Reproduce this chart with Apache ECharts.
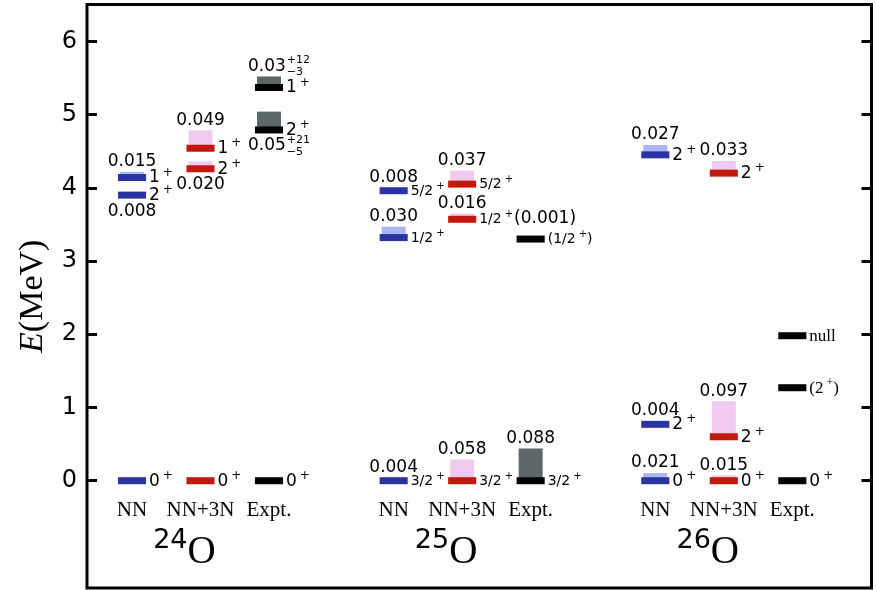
<!DOCTYPE html>
<html>
<head>
<meta charset="utf-8">
<script src="https://cdn.jsdelivr.net/npm/echarts@6/dist/echarts.min.js"></script>
<style>
  html, body { margin: 0; padding: 0; background: #fff; }
  #chart { width: 876px; height: 590px; }
</style>
</head>
<body>
<div id="chart"></div>
<script>
// Oxygen isotopes and the three level columns drawn for each of them
const nuclei = ['24', '25', '26'];
const methods = ['NN', 'NN+3N', 'Expt.'];
const columnX = [1, 2, 3, 4.82, 5.82, 6.82, 8.64, 9.64, 10.64];
const energyTicks = [0, 1, 2, 3, 4, 5, 6];

// Levels: column index, excitation energy (MeV), J^pi, decay width (MeV)
const levelColumn = [0, 0, 0, 1, 1, 1, 2, 2, 2,
                     3, 3, 3, 4, 4, 4, 5, 5,
                     6, 6, 6, 7, 7, 7, 8, 8, 8];
const levelEnergy = [0, 3.90, 4.14, 0, 4.26, 4.54, 0, 4.79, 5.37,
                     0, 3.32, 3.96, 0, 3.57, 4.05, 0, 3.30,
                     0, 0.77, 4.45, 0, 0.60, 4.20, 0, 1.27, 1.98];
const levelSpin = ['0+', '2+', '1+', '0+', '2+', '1+', '0+', '2+', '1+',
                   '3/2+', '1/2+', '5/2+', '3/2+', '1/2+', '5/2+', '3/2+', '(1/2+)',
                   '0+', '2+', '2+', '0+', '2+', '2+', '0+', '(2+)', 'null'];
const levelWidth = ['', '0.008', '0.015', '', '0.020', '0.049', '', '0.05', '0.03',
                    '0.004', '0.030', '0.008', '0.058', '0.016', '0.037', '0.088', '',
                    '0.021', '0.004', '0.027', '0.015', '0.097', '0.033', '', '', ''];
const widthErrUp = ['', '', '', '', '', '', '', '+21', '+12',
                    '', '', '', '', '', '', '', '',
                    '', '', '', '', '', '', '', '', ''];
const widthErrDown = ['', '', '', '', '', '', '', '\u22125', '\u22123',
                      '', '', '', '', '', '', '', '',
                      '', '', '', '', '', '', '', '', ''];
const levelNote = ['', '', '', '', '', '', '', '', '',
                   '', '', '', '', '(0.001)', '', '', '',
                   '', '', '', '', '', '', '', '', ''];

// Drawing style
const barColor = ['#2a33a2', '#c4180b', '#000000'];
const boxColor = ['#a9b5f4', '#efc9ef', '#5d6868'];
const BAR_WIDTH = 0.41;     // in column units
const BOX_WIDTH = 0.35;
const BAR_THICK = 7;        // px
const WIDTH_SCALE = 5;      // boxes show 5 x width above the level
const widthBelow = [1, 4, 7];      // width labels written under the level
const serifSpin = [24, 25];
const SANS = 'DejaVu Sans';
const SERIF = 'Liberation Serif';

function spinRich(s) {
  if (s.indexOf('+') < 0) return '{n|' + s + '}';
  const parts = s.split('+');
  let out = '';
  parts.forEach((p, k) => {
    if (p) out += '{n|' + p + '}';
    if (k < parts.length - 1) out += '{s|+}';
  });
  return out;
}

const measureCtx = document.createElement('canvas').getContext('2d');
function textWidth(t, size, family) {
  measureCtx.font = size + 'px "' + family + '"';
  return measureCtx.measureText(t).width;
}

function renderLevel(params, api) {
  const i = params.dataIndex;
  const col = levelColumn[i];
  const method = col % 3;
  const x = api.value(0);
  const E = api.value(1);
  const w = api.value(2);
  const c = api.coord([x, E]);
  const barW = api.size([BAR_WIDTH, 0])[0];
  const boxW = api.size([BOX_WIDTH, 0])[0];
  const children = [];
  let top = c[1] - BAR_THICK / 2;

  if (w > 0) {
    const yTop = api.coord([x, E + WIDTH_SCALE * w])[1];
    children.push({
      type: 'rect',
      shape: { x: c[0] - boxW / 2, y: yTop, width: boxW, height: c[1] - yTop },
      style: { fill: boxColor[method] }
    });
    top = Math.min(top, yTop);
  }
  children.push({
    type: 'rect',
    shape: { x: c[0] - barW / 2, y: c[1] - BAR_THICK / 2, width: barW, height: BAR_THICK },
    style: { fill: barColor[method] }
  });

  // J^pi label to the right of the level
  const small = col >= 3 && col <= 5;
  const fs = small ? 14 : 17;
  const fam = serifSpin.indexOf(i) >= 0 ? SERIF : SANS;
  let txt = spinRich(levelSpin[i]);
  if (levelNote[i]) txt += '{w|' + levelNote[i] + '}';
  children.push({
    type: 'text',
    x: c[0] + barW / 2 + 3,
    y: c[1] - 1,
    style: {
      text: txt,
      align: 'left',
      verticalAlign: 'middle',
      fill: '#000',
      fontSize: fs,
      fontFamily: fam,
      rich: {
        n: { fontSize: fs, fontFamily: fam, lineHeight: fs + 3, verticalAlign: 'bottom' },
        s: { fontSize: Math.round(fs * 0.72), fontFamily: fam, verticalAlign: 'top', padding: [0, 0, 0, 3] },
        w: { fontSize: 17, fontFamily: SANS, lineHeight: fs + 3, verticalAlign: 'bottom', padding: [0, 0, 0, 1] }
      }
    }
  });

  // width label
  if (levelWidth[i]) {
    const below = widthBelow.indexOf(i) >= 0;
    const yc = below ? c[1] + 16 : top - 10;
    if (widthErrUp[i]) {
      const x0 = c[0] - 21;
      const mw = textWidth(levelWidth[i], 17, SANS);
      children.push({ type: 'text', x: x0, y: yc,
        style: { text: levelWidth[i], align: 'left', verticalAlign: 'middle', fontSize: 17, fontFamily: SANS, fill: '#000' } });
      children.push({ type: 'text', x: x0 + mw + 1, y: yc - 6,
        style: { text: widthErrUp[i], align: 'left', verticalAlign: 'middle', fontSize: 11, fontFamily: SANS, fill: '#000' } });
      children.push({ type: 'text', x: x0 + mw + 1, y: yc + 6,
        style: { text: widthErrDown[i], align: 'left', verticalAlign: 'middle', fontSize: 11, fontFamily: SANS, fill: '#000' } });
    } else {
      children.push({ type: 'text', x: c[0], y: yc,
        style: { text: levelWidth[i], align: 'center', verticalAlign: 'middle', fontSize: 17, fontFamily: SANS, fill: '#000' } });
    }
  }
  return { type: 'group', children: children };
}

function renderColumnLabel(params, api) {
  const i = params.dataIndex;
  const x = api.value(0);
  const c0 = api.coord([x, 0]);
  const children = [{
    type: 'text', x: c0[0], y: c0[1] + 30,
    style: { text: methods[i % 3], align: 'center', verticalAlign: 'middle',
             fontSize: 21, fontFamily: SERIF, fill: '#000' }
  }];
  if (i % 3 === 1) {
    children.push({
      type: 'text', x: c0[0] - 13, y: c0[1] + 60,
      style: { text: nuclei[Math.floor(i / 3)], align: 'right', verticalAlign: 'middle',
               fontSize: 27, fontFamily: SANS, fill: '#000' }
    });
    children.push({
      type: 'text', x: c0[0] - 13, y: c0[1] + 72,
      style: { text: 'O', align: 'left', verticalAlign: 'middle',
               fontSize: 39, fontFamily: SERIF, fill: '#000' }
    });
  }
  return { type: 'group', children: children };
}

const levelData = levelEnergy.map((e, i) => [
  columnX[levelColumn[i]], e, levelWidth[i] ? parseFloat(levelWidth[i]) : 0
]);
const columnData = columnX.map(x => [x, 0]);

const chart = echarts.init(document.getElementById('chart'), null, { renderer: 'canvas' });
chart.setOption({
  animation: false,
  backgroundColor: '#fff',
  grid: {
    left: 87, right: 4.5, top: 4.5, bottom: 2,
    show: true, borderColor: '#000', borderWidth: 3, backgroundColor: 'transparent'
  },
  xAxis: {
    type: 'value', min: 0.343, max: 11.796, show: false
  },
  yAxis: [{
    type: 'value', min: -1.465, max: 6.503, position: 'left',
    axisLine: { show: false },
    splitLine: { show: false },
    axisTick: { show: true, inside: true, length: 10, customValues: energyTicks,
                lineStyle: { color: '#000', width: 3 } },
    axisLabel: { show: true, customValues: energyTicks, margin: 10, fontSize: 24,
                 fontFamily: SANS, color: '#000' },
    name: '{i|E}{r|(MeV)}',
    nameLocation: 'middle',
    nameRotate: 90,
    nameGap: 37,
    nameTextStyle: {
      rich: {
        i: { fontFamily: SERIF, fontStyle: 'italic', fontSize: 34, color: '#000' },
        r: { fontFamily: SERIF, fontSize: 34, color: '#000' }
      }
    }
  }, {
    type: 'value', min: -1.465, max: 6.503, position: 'right',
    axisLine: { show: false },
    splitLine: { show: false },
    axisTick: { show: true, inside: true, length: 10, customValues: energyTicks,
                lineStyle: { color: '#000', width: 3 } },
    axisLabel: { show: false }
  }],
  series: [{
    type: 'custom',
    name: 'levels',
    renderItem: renderLevel,
    data: levelData,
    encode: { x: 0, y: 1 },
    z: 3
  }, {
    type: 'custom',
    name: 'columns',
    renderItem: renderColumnLabel,
    data: columnData,
    encode: { x: 0, y: 1 },
    z: 3
  }]
});
</script>
</body>
</html>
